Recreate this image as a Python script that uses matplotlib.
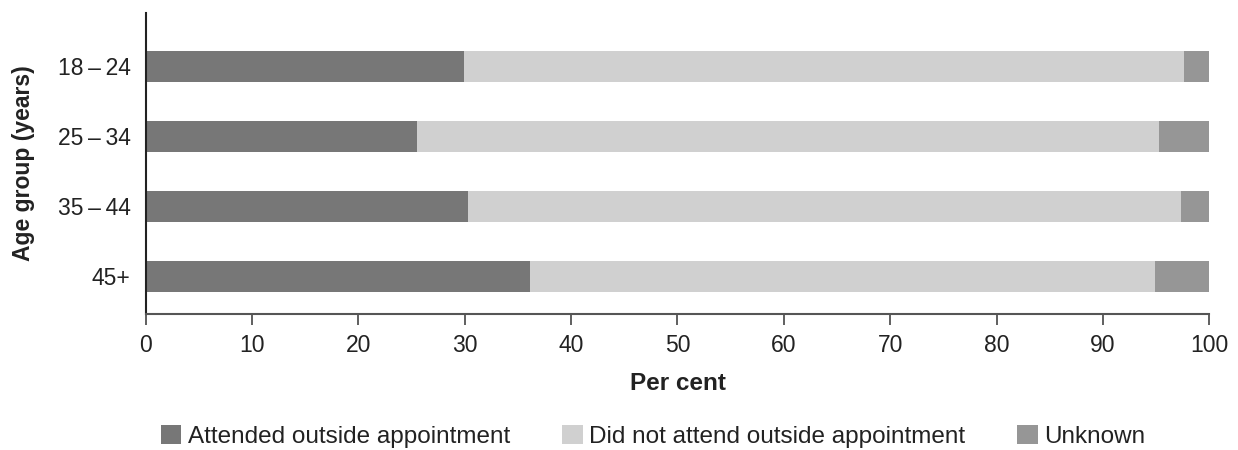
import numpy as np
import matplotlib
matplotlib.use('Agg')
import matplotlib.pyplot as plt
from matplotlib.patches import Patch

plt.rcParams['font.family'] = ['Liberation Sans', 'DejaVu Sans']

# Data (per cent)
age_groups = ['18\u2009\u2013\u200924', '25\u2009\u2013\u200934', '35\u2009\u2013\u200944', '45+']
attended = [29.9, 25.5, 30.3, 36.1]
not_attended = [67.7, 69.8, 67.0, 58.8]
unknown = [2.4, 4.7, 2.7, 5.1]

series_names = ['Attended outside appointment', 'Did not attend outside appointment', 'Unknown']
colors = ['#777777', '#d0d0d0', '#969696']

fig = plt.figure(figsize=(12.38, 4.5), dpi=100)
ax = fig.add_axes([0.1177, 0.302, 0.8591, 0.669])

y = np.arange(len(age_groups))
h = 0.44
left = np.zeros(len(age_groups))
for vals, c in zip([attended, not_attended, unknown], colors):
    ax.barh(y, vals, h, left=left, color=c, edgecolor='none')
    left += np.array(vals)

ax.set_yticks(y)
ax.set_yticklabels(age_groups, fontsize=16.5, color='#222222')
ax.set_ylim(3.54, -0.76)
ax.set_xlim(0, 100)
ax.set_xticks(np.arange(0, 101, 10))
ax.tick_params(axis='x', labelsize=16.5, colors='#222222', length=8, width=1.2, color='#444444', pad=6)
ax.tick_params(axis='y', length=0, pad=11)
for s in ['top', 'right']:
    ax.spines[s].set_visible(False)
ax.spines['left'].set_linewidth(1.5)
ax.spines['left'].set_color('#222222')
ax.spines['bottom'].set_linewidth(1.5)
ax.spines['bottom'].set_color('#555555')

ax.set_xlabel('Per cent', fontsize=17.5, fontweight='bold', labelpad=11, color='#222222')
ax.set_ylabel('Age group (years)', fontsize=16.5, fontweight='bold', labelpad=16, color='#222222')

handles = [Patch(facecolor=c, edgecolor='none') for c in colors]
fig.legend(handles, series_names, loc='center', bbox_to_anchor=(0.5275, 0.03), ncol=3,
           frameon=False, fontsize=17.5, handlelength=0.86, handleheight=0.86,
           handletextpad=0.25, columnspacing=2.15, labelcolor='#222222')

fig.savefig('out.png', dpi=100)
